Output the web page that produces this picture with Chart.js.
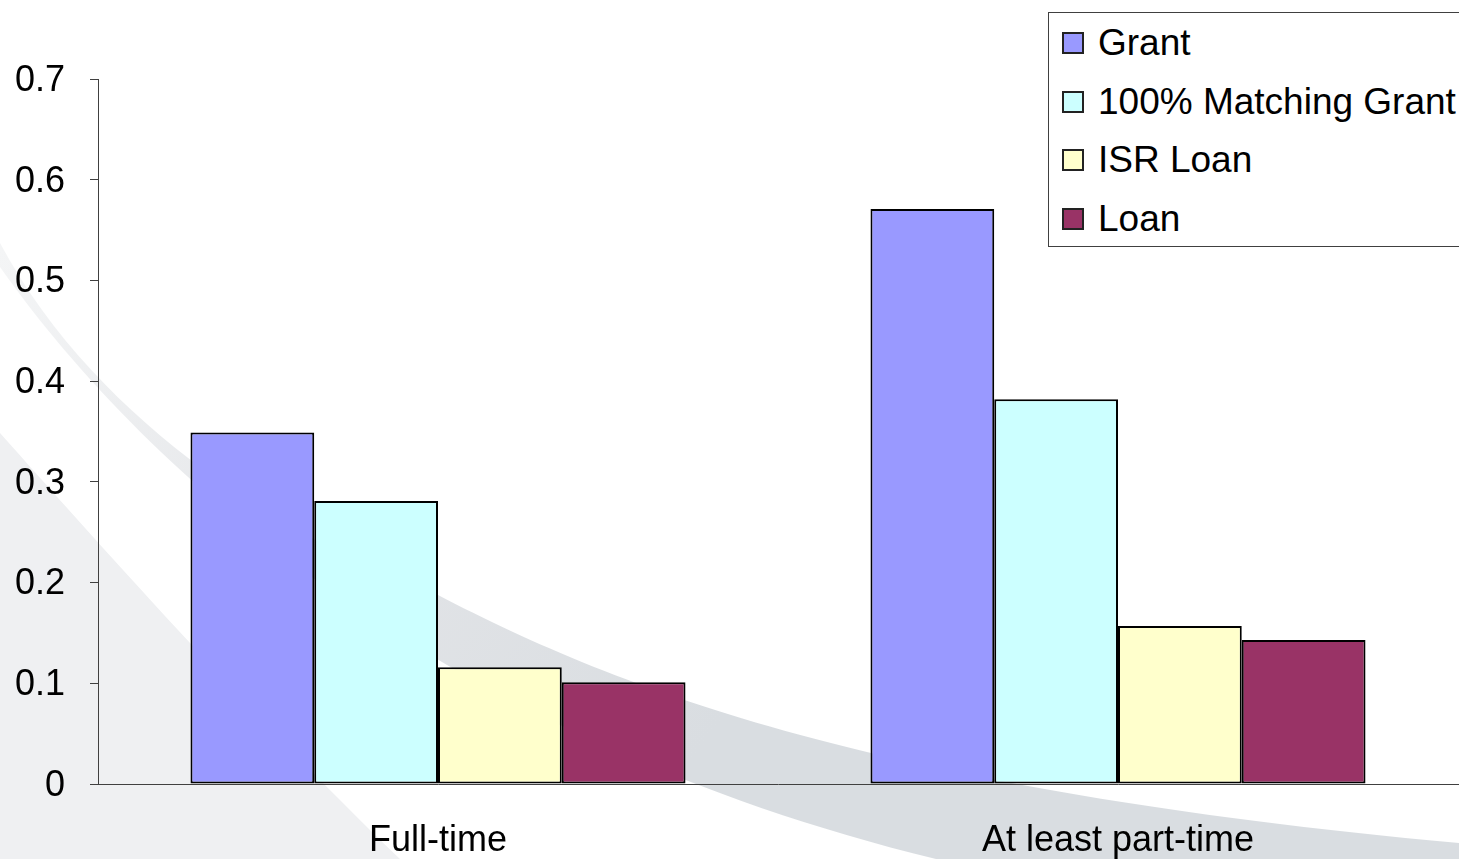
<!DOCTYPE html>
<html>
<head>
<meta charset="utf-8">
<script src="https://cdn.jsdelivr.net/npm/chart.js@4/dist/chart.umd.min.js"></script>
<style>
  html, body { margin: 0; padding: 0; background: #fff; overflow: hidden; }
  #wrap { position: relative; width: 1459px; height: 859px; }
  #legend {
    position: absolute; left: 1048px; top: 12px; width: 430px; height: 232px;
    border: 1px solid #404040; background: #fff; box-sizing: content-box;
    font-family: "Liberation Sans", Arial, sans-serif; font-size: 37px; color: #000;
    padding-top: 0.6px;
  }
  .row { display: flex; align-items: center; height: 58.7px; white-space: nowrap; }
  .swatch { width: 18px; height: 18px; border: 2px solid #222; margin-left: 13px; margin-right: 14px; }
</style>
</head>
<body>
<div id="wrap">
  <canvas id="myChart" width="1459" height="859"></canvas>
  <div id="legend"></div>
</div>
<script>
// ********
// * Data *
// ********
const categories = ['Full-time', 'At least part-time'];
const seriesNames = ['Grant', '100% Matching Grant', 'ISR Loan', 'Loan'];
const grant = [0.349, 0.571];
const matchingGrant = [0.281, 0.382];
const isrLoan = [0.116, 0.157];
const loan = [0.101, 0.143];
const seriesColors = ['#9999FF', '#CCFFFF', '#FFFFCC', '#993366'];

const yMin = 0;
const yMax = 0.7;
const yStep = 0.1;

const fontFamily = '"Liberation Sans", Arial, sans-serif';

// *********************
// * Background swoosh *
// *********************
const swooshPlugin = {
  id: 'swoosh',
  beforeDraw(chart) {
    const ctx = chart.ctx;
    ctx.save();
    // light grey area bottom-left
    ctx.beginPath();
    ctx.moveTo(0, 433);
    ctx.bezierCurveTo(60, 500, 250, 715, 400, 859);
    ctx.lineTo(0, 859);
    ctx.closePath();
    ctx.fillStyle = '#eff0f2';
    ctx.fill();

    // main grey band, fading out towards the left
    const grad = ctx.createLinearGradient(0, 250, 700, 750);
    grad.addColorStop(0, '#f4f5f6');
    grad.addColorStop(0.55, '#e2e4e7');
    grad.addColorStop(1, '#d9dde1');
    ctx.beginPath();
    ctx.moveTo(0, 243);
    ctx.bezierCurveTo(100, 430, 300, 545, 438, 595);
    ctx.bezierCurveTo(620, 690, 880, 790, 1459, 843);
    ctx.lineTo(1459, 859);
    ctx.lineTo(936, 859);
    ctx.bezierCurveTo(450, 740, 150, 480, 0, 267);
    ctx.closePath();
    ctx.fillStyle = grad;
    ctx.fill();
    ctx.restore();
  }
};

// **********
// * Chart  *
// **********
const ctx = document.getElementById('myChart').getContext('2d');
const allSeries = [grant, matchingGrant, isrLoan, loan];

const config = {
  type: 'bar',
  data: {
    labels: categories,
    datasets: allSeries.map((values, i) => ({
      label: seriesNames[i],
      data: values,
      backgroundColor: seriesColors[i],
      borderColor: '#000',
      borderWidth: 2,
      borderSkipped: false,
      categoryPercentage: 0.728,
      barPercentage: 1.0
    }))
  },
  options: {
    responsive: false,
    animation: false,
    layout: { padding: { top: 79, right: 1, bottom: 0, left: 0 } },
    plugins: {
      legend: { display: false },
      tooltip: { enabled: false }
    },
    scales: {
      x: {
        afterFit(scale) { scale.height = 75; },
        grid: { display: false, drawTicks: false },
        border: { display: true, color: '#404040', width: 1 },
        ticks: {
          color: '#000',
          padding: 35,
          font: { family: fontFamily, size: 36 }
        }
      },
      y: {
        min: yMin,
        max: yMax,
        afterFit(scale) { scale.width = 98; },
        grid: {
          display: true,
          drawOnChartArea: false,
          drawTicks: true,
          tickLength: 8,
          color: '#404040'
        },
        border: { display: true, color: '#404040', width: 1 },
        ticks: {
          stepSize: yStep,
          color: '#000',
          padding: 25,
          labelOffset: 2,
          font: { family: fontFamily, size: 36 }
        }
      }
    }
  },
  plugins: [swooshPlugin]
};

const barChart = new Chart(ctx, config);

// ***************
// * HTML legend *
// ***************
const legendEl = document.getElementById('legend');
seriesNames.forEach((name, i) => {
  const row = document.createElement('div');
  row.className = 'row';
  const sw = document.createElement('span');
  sw.className = 'swatch';
  sw.style.background = seriesColors[i];
  const txt = document.createElement('span');
  txt.innerText = name;
  row.appendChild(sw);
  row.appendChild(txt);
  legendEl.appendChild(row);
});
</script>
</body>
</html>
